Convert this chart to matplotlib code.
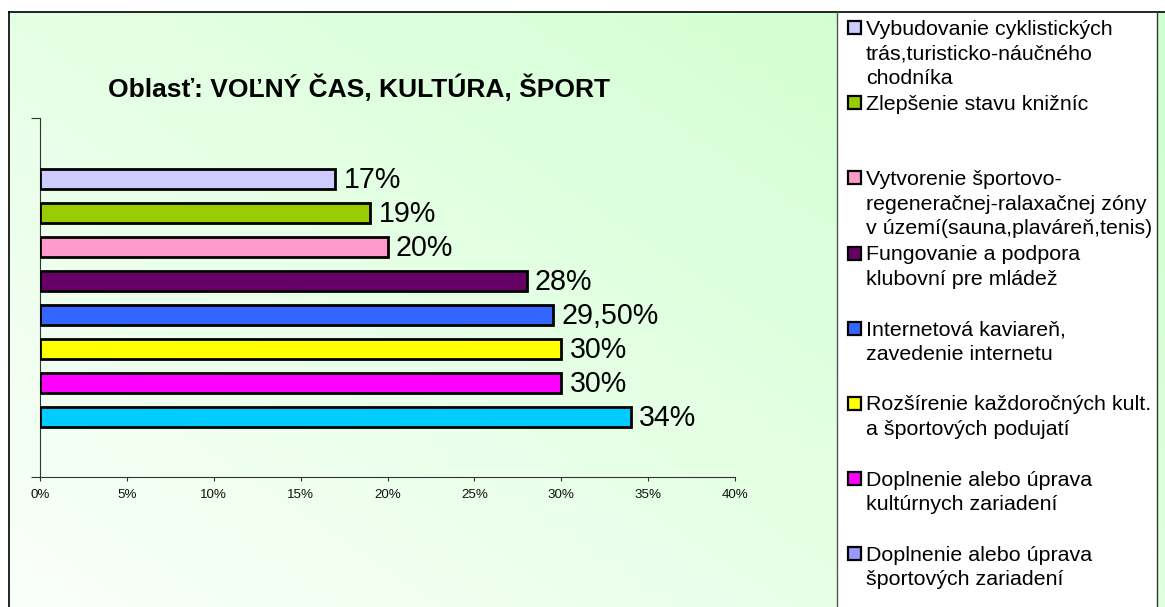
import numpy as np
import matplotlib
matplotlib.use("Agg")
import matplotlib.pyplot as plt
from matplotlib.patches import Rectangle

plt.rcParams['font.family'] = ['Liberation Sans', 'DejaVu Sans']

# ---- data ----
title = "Oblasť: VOĽNÝ ČAS, KULTÚRA, ŠPORT"
values = [17, 19, 20, 28, 29.5, 30, 30, 34]
value_labels = ['17%', '19%', '20%', '28%', '29,50%', '30%', '30%', '34%']
bar_colors = ['#CCCCFF', '#99CC00', '#FF99CC', '#660066', '#3366FF', '#FFFF00', '#FF00FF', '#00CCFF']
legend_colors = ['#CCCCFF', '#99CC00', '#FF99CC', '#660066', '#3366FF', '#FFFF00', '#FF00FF', '#9999FF']
legend_labels = [
    ["Vybudovanie cyklistických", "trás,turisticko-náučného", "chodníka"],
    ["Zlepšenie stavu knižníc"],
    ["Vytvorenie športovo-", "regeneračnej-ralaxačnej zóny", "v území(sauna,plaváreň,tenis)"],
    ["Fungovanie a podpora", "klubovní pre mládež"],
    ["Internetová kaviareň,", "zavedenie internetu"],
    ["Rozšírenie každoročných kult.", "a športových podujatí"],
    ["Doplnenie alebo úprava", "kultúrnych zariadení"],
    ["Doplnenie alebo úprava", "športových zariadení"],
]
x_ticks = [0, 5, 10, 15, 20, 25, 30, 35, 40]
x_tick_labels = ['0%', '5%', '10%', '15%', '20%', '25%', '30%', '35%', '40%']

W, H = 1165, 607
fig = plt.figure(figsize=(W / 100, H / 100), dpi=100)
fig.patch.set_facecolor('white')

# ---- background / layout axes in pixel coordinates ----
bg = fig.add_axes([0, 0, 1, 1], zorder=0)
bg.axis('off')

x0, y0 = 9, 12
gx = np.linspace(0, 1, 300)
gy = np.linspace(0, 1, 200)
GX, GY = np.meshgrid(gx, gy)
t = np.clip(0.10 + 0.52 * GX + 0.40 * (1 - GY), 0, 1)
green = np.array([204, 255, 204]) / 255.0
white = np.array([1.0, 1.0, 1.0])
img = white[None, None, :] * (1 - t[..., None]) + green[None, None, :] * t[..., None]
bg.imshow(img, extent=(x0, W + 10, H, y0), aspect='auto', zorder=0, interpolation='bilinear')
bg.set_xlim(0, W)
bg.set_ylim(H, 0)

# chart area border
bg.plot([x0, W], [y0, y0], color='black', lw=1.2, zorder=3)
bg.plot([x0, x0], [y0, H], color='black', lw=1.2, zorder=3)

# legend box
lx0, lx1 = 837, 1157
bg.add_patch(Rectangle((lx0, y0), lx1 - lx0, H - y0 + 5, facecolor='white',
                       edgecolor='none', zorder=2))
bg.plot([lx0, lx0], [y0, H], color='#555555', lw=1.0, zorder=3)
bg.plot([lx1, lx1], [y0, H], color='#333333', lw=1.0, zorder=3)

# title
bg.text(358.5, 97.3, title, ha='center', va='baseline', fontsize=19,
        fontweight='bold', zorder=4)

# legend entries
pitch = 75.1
for i, (lines, col) in enumerate(zip(legend_labels, legend_colors)):
    cy = 27.7 + pitch * i
    bg.add_patch(Rectangle((847.5, cy - 6.5), 13, 13, facecolor=col,
                           edgecolor='black', lw=1.6, zorder=4))
    for k, line in enumerate(lines):
        bg.text(866, 35 + pitch * i + 24.3 * k, line, ha='left', va='baseline',
                fontsize=15.4, zorder=4)

# ---- main plot axes ----
ax_l, ax_r, ax_t, ax_b = 40, 735, 118, 477
ax = fig.add_axes([ax_l / W, (H - ax_b) / H, (ax_r - ax_l) / W, (ax_b - ax_t) / H], zorder=5)
ax.patch.set_alpha(0)

n = len(values)
ypos = np.arange(n)[::-1]
pitch_px = 34.0
ax.barh(ypos, values, height=20 / pitch_px, color=bar_colors, edgecolor='black',
        linewidth=2.0, zorder=3)
half = (ax_b - ax_t) / pitch_px / 2
ax.set_ylim((n - 1) / 2 - half, (n - 1) / 2 + half)
ax.set_xlim(0, 40)

for v, y, lab in zip(values, ypos, value_labels):
    ax.annotate(lab, xy=(v, y), xytext=(6.1, -6.9), textcoords='offset points',
                ha='left', va='baseline', fontsize=20.6, zorder=6)

ax.set_xticks(x_ticks)
ax.set_xticklabels(x_tick_labels, fontsize=9.6, color='#111111')
ax.set_yticks(list(ax.get_ylim()))
ax.set_yticklabels([])
ax.tick_params(axis='x', direction='out', length=3, width=0.8, color='#333333', pad=6)
ax.tick_params(axis='y', direction='out', length=6.5, width=0.8, color='#333333')
for s in ['top', 'right']:
    ax.spines[s].set_visible(False)
for s in ['left', 'bottom']:
    ax.spines[s].set_color('#333333')
    ax.spines[s].set_linewidth(0.8)

fig.savefig('out.png', dpi=100)
